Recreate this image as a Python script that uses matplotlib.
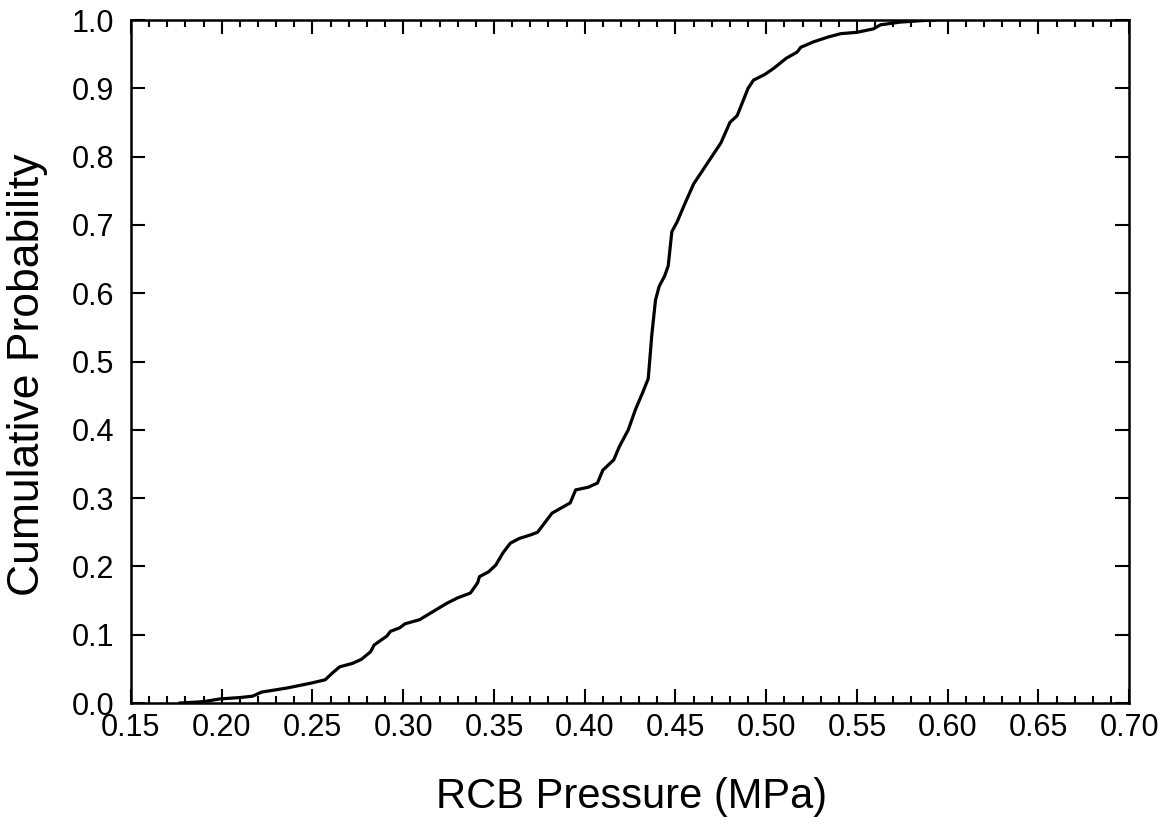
import matplotlib
matplotlib.use('Agg')
import matplotlib.pyplot as plt
from matplotlib.ticker import MultipleLocator

plt.rcParams['font.family'] = ['Liberation Sans', 'DejaVu Sans']

# CDF of RCB pressure
pressure = [0.177, 0.190, 0.199, 0.210, 0.217, 0.222, 0.236, 0.249, 0.257, 0.261,
            0.265, 0.272, 0.277, 0.282, 0.284, 0.291, 0.293, 0.298, 0.301, 0.309,
            0.319, 0.324, 0.330, 0.337, 0.341, 0.342, 0.347, 0.351, 0.355, 0.359,
            0.364, 0.370, 0.374, 0.382, 0.392, 0.395, 0.402, 0.407, 0.410, 0.416,
            0.419, 0.424, 0.428, 0.432, 0.435, 0.437, 0.439, 0.441, 0.444, 0.446,
            0.448, 0.451, 0.455, 0.460, 0.465, 0.470, 0.475, 0.480, 0.484, 0.487,
            0.490, 0.493, 0.499, 0.504, 0.511, 0.517, 0.519, 0.526, 0.534,
            0.541, 0.550, 0.559, 0.563, 0.574, 0.585, 0.593]
probability = [0.000, 0.002, 0.006, 0.008, 0.010, 0.016, 0.022, 0.029, 0.034, 0.044,
               0.053, 0.058, 0.064, 0.075, 0.085, 0.098, 0.105, 0.110, 0.116, 0.122,
               0.138, 0.146, 0.154, 0.161, 0.176, 0.185, 0.192, 0.202, 0.220, 0.234,
               0.241, 0.246, 0.250, 0.278, 0.293, 0.312, 0.316, 0.322, 0.341, 0.356,
               0.375, 0.400, 0.430, 0.455, 0.475, 0.540, 0.590, 0.610, 0.625, 0.640,
               0.690, 0.705, 0.730, 0.760, 0.780, 0.800, 0.820, 0.850, 0.860, 0.880,
               0.900, 0.912, 0.920, 0.929, 0.944, 0.953, 0.960, 0.968, 0.975,
               0.980, 0.982, 0.987, 0.993, 0.997, 0.999, 1.000]

fig = plt.figure(figsize=(11.69, 8.17), dpi=100)
ax = fig.add_axes([0.112, 0.1395, 0.854, 0.836])

ax.plot(pressure, probability, color='black', linewidth=2.3)

ax.set_xlim(0.15, 0.70)
ax.set_ylim(0.0, 1.0)
ax.xaxis.set_major_locator(MultipleLocator(0.05))
ax.xaxis.set_minor_locator(MultipleLocator(0.01))
ax.yaxis.set_major_locator(MultipleLocator(0.1))
ax.xaxis.set_major_formatter(plt.FormatStrFormatter('%.2f'))
ax.yaxis.set_major_formatter(plt.FormatStrFormatter('%.1f'))

ax.tick_params(which='both', direction='in', top=True, right=True, labelsize=22, width=1.5)
ax.tick_params(which='major', length=10)
ax.tick_params(which='minor', length=5)
ax.tick_params(axis='x', which='major', pad=7)
ax.tick_params(axis='y', which='major', pad=12)
ax.tick_params(axis='y', which='minor', left=False, right=False)
for s in ax.spines.values():
    s.set_linewidth(1.8)

ax.set_xlabel('RCB Pressure (MPa)', fontsize=30)
ax.set_ylabel('Cumulative Probability', fontsize=32)
ax.xaxis.set_label_coords(0.501, -0.108)
ax.yaxis.set_label_coords(-0.083, 0.48)

fig.savefig('out.png', dpi=100)
